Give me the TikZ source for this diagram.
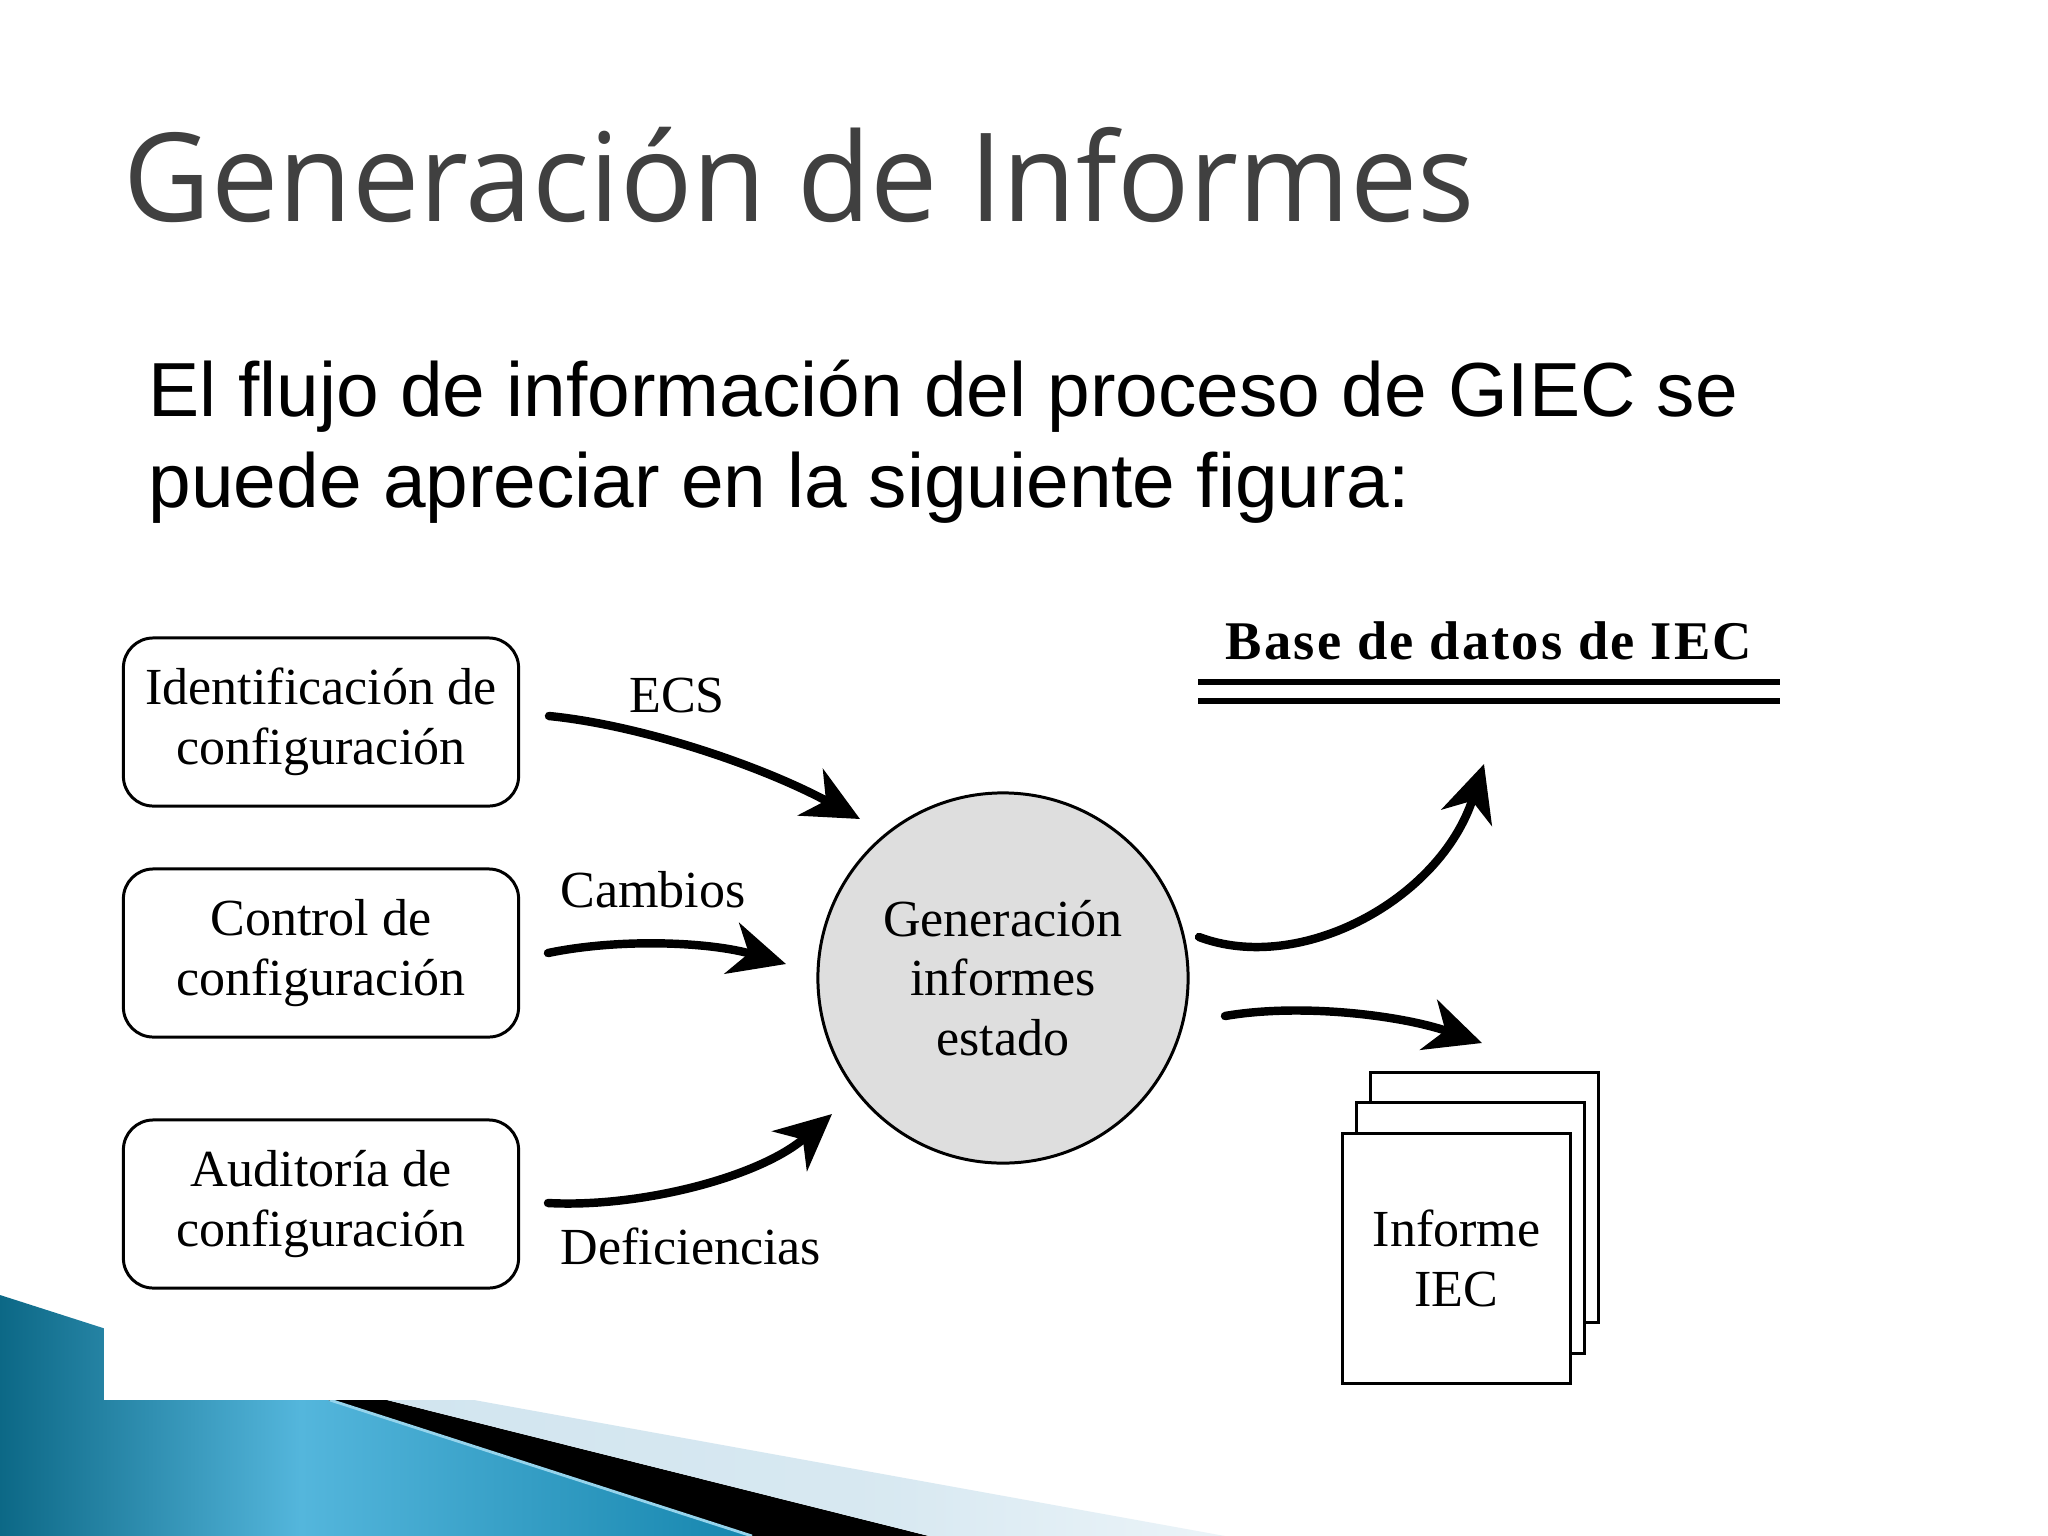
\documentclass[tikz,border=0pt]{standalone}
\usepackage{fontspec}
\usepackage{graphicx}
\usetikzlibrary{arrows.meta,calc}
\newfontfamily\titlefont{Open Sans}
\newfontfamily\bodyfont{Liberation Sans}
\newfontfamily\figfont{Liberation Serif}
\newfontfamily\basefont[LetterSpace=4]{Liberation Serif}
\definecolor{tealA}{RGB}{12,104,134}
\definecolor{tealB}{RGB}{84,182,220}
\definecolor{tealC}{RGB}{22,134,174}
\definecolor{paleblue}{RGB}{206,227,238}
\definecolor{hiliteblue}{RGB}{150,212,236}
\definecolor{titlegray}{RGB}{64,64,64}
\definecolor{circlegray}{RGB}{222,222,222}
\pgfdeclarehorizontalshading{swoosh}{100bp}{color(0bp)=(tealA); color(25bp)=(tealA); color(45bp)=(tealB); color(75bp)=(tealC); color(100bp)=(tealC)}
\pgfdeclarehorizontalshading{paleband}{100bp}{color(0bp)=(paleblue); color(25bp)=(paleblue); color(60bp)=(paleblue!80!white); color(75bp)=(paleblue!40!white); color(100bp)=(paleblue!40!white)}

\begin{document}
\begin{tikzpicture}[x=0.01cm,y=-0.01cm,
  figtext/.style={font=\figfont\fontsize{14.8pt}{17pt}\selectfont},
  box/.style={draw, line width=0.85pt, rounded corners=8.5pt, minimum width=3.95cm,
    minimum height=1.68cm, align=center, inner sep=0pt, figtext},
  proc/.style={draw, circle, line width=0.85pt, fill=circlegray, minimum size=3.7cm,
    align=center, inner sep=0pt, figtext},
  page/.style={draw, fill=white, line width=0.85pt, minimum width=2.28cm,
    minimum height=2.5cm, inner sep=0pt, align=center, figtext},
  flow/.style={line width=2.4pt, line cap=round,
    -{Stealth[length=16pt,width=15pt,inset=5pt]}},
  lbl/.style={anchor=base, inner sep=0pt, figtext},
  dbline/.style={line width=1.5pt}]
\useasboundingbox (0,0) rectangle (2048,1536);
\fill[white] (0,0) rectangle (2048,1536);

% --- decorative swoosh, bottom left ---
\shade[shading=swoosh] (0,1295) -- (752,1536) -- (0,1536) -- cycle;
\fill[black] (104,1328) -- (752,1536) -- (929,1536) -- (104,1329) -- cycle;
\shade[shading=paleband] (104,1329) -- (929,1536) -- (1225,1536) -- (104,1333) -- cycle;
\draw[hiliteblue, line width=0.8pt] (330,1400) -- (752,1536);
\fill[white] (104,1100) rectangle (2048,1400);

% --- title and body text ---
\node[anchor=base west, inner sep=0pt, text=titlegray,
  font=\titlefont\fontsize{35pt}{40pt}\selectfont] (title) at (123,221)
  {\scalebox{0.975}[1]{Generación de Informes}};
\node[anchor=base west, inner sep=0pt, font=\bodyfont\fontsize{21.8pt}{26pt}\selectfont]
  (body1) at (148,416) {El flujo de información del proceso de GIEC se};
\node[anchor=base west, inner sep=0pt, font=\bodyfont\fontsize{21.8pt}{26pt}\selectfont]
  (body2) at (148,507) {puede apreciar en la siguiente figura:};

% --- diagram ---
\node[box] (ident) at (321,722) {Identificación de\\configuración};
\node[box] (ctrl) at (321,953) {Control de\\configuración};
\node[box] (audit) at (321,1204) {Auditoría de\\configuración};

\node[proc] (gen) at (1003,978) {Generación\\informes\\estado};

\node[lbl] (ecs) at (677,712) {ECS};
\node[lbl] (camb) at (653,907) {Cambios};
\node[lbl] (defi) at (691,1264) {Deficiencias};

\coordinate (s1) at (549,716);
\coordinate (e1) at (860,819);
\coordinate (s2) at (548,953);
\coordinate (e2) at (786,964);
\coordinate (s3) at (548,1203);
\coordinate (e3) at (832,1114);
\coordinate (s4) at (1199,937);
\coordinate (e4) at (1484,764);
\coordinate (s5) at (1225,1016);
\coordinate (e5) at (1482,1043);

\draw[flow] (s1) .. controls (640,725) and (760,765) .. (e1);
\draw[flow] (s2) .. controls (620,938) and (710,942) .. (e2);
\draw[flow] (s3) .. controls (640,1208) and (760,1177) .. (e3);
\draw[flow] (s4) .. controls (1300,975) and (1440,900) .. (e4);
\draw[flow] (s5) .. controls (1300,1003) and (1400,1015) .. (e5);

% database
\node[anchor=base, inner sep=0pt, font=\basefont\bfseries\fontsize{15.5pt}{18pt}\selectfont]
  (db) at (1489,659) {Base de datos de IEC};
\coordinate (dbA) at (1198,682);
\coordinate (dbB) at (1780,682);
\coordinate (dbC) at (1198,701);
\coordinate (dbD) at (1780,701);
\draw[dbline] (dbA) -- (dbB);
\draw[dbline] (dbC) -- (dbD);

% report pages
\node[page] (pg3) at (1484.5,1197.5) {};
\node[page] (pg2) at (1470.5,1228) {};
\node[page] (pg1) at (1456.5,1258.5) {Informe\\IEC};
\end{tikzpicture}
\end{document}
